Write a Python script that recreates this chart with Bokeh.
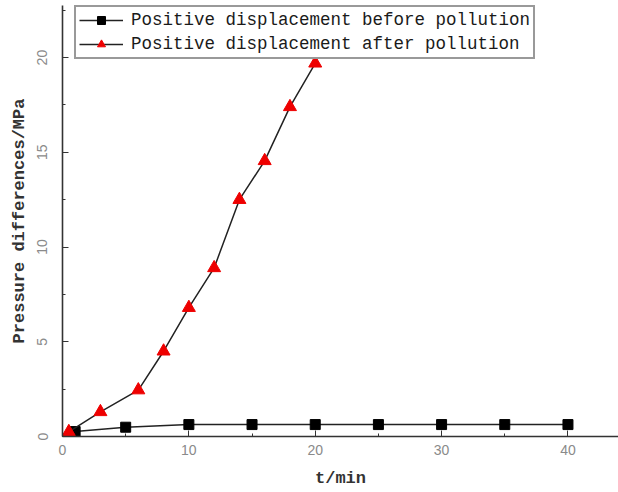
from bokeh.plotting import figure
from bokeh.models import Range1d, SingleIntervalTicker, Legend, LegendItem
from bokeh.embed import file_html
from bokeh.resources import INLINE

# Pressure difference over time, positive displacement before / after pollution
t_before = [1, 5, 10, 15, 20, 25, 30, 35, 40]
p_before = [0.26, 0.49, 0.63, 0.63, 0.63, 0.63, 0.63, 0.63, 0.63]

t_after = [0.5, 3, 6, 8, 10, 12, 14, 16, 18, 20]
p_after = [0.25, 1.3, 2.45, 4.5, 6.8, 8.9, 12.5, 14.55, 17.4, 19.7]

x_ticks = [0, 10, 20, 30, 40]
y_ticks = [0, 5, 10, 15, 20]

p = figure(width=618, height=492, output_backend="svg", toolbar_location=None,
           x_range=Range1d(0, 44.0), y_range=Range1d(0, 22.75),
           min_border_left=62, min_border_bottom=56, min_border_top=5,
           min_border_right=0)
p.outline_line_color = None
p.xgrid.visible = False
p.ygrid.visible = False
p.background_fill_color = "white"
p.border_fill_color = "white"

p.xaxis.ticker = SingleIntervalTicker(interval=10, num_minor_ticks=2)
p.yaxis.ticker = SingleIntervalTicker(interval=5, num_minor_ticks=2)

for ax in (p.xaxis[0], p.yaxis[0]):
    ax.axis_line_color = "#333333"
    ax.axis_line_width = 1.6
    ax.major_tick_line_color = "#333333"
    ax.minor_tick_line_color = "#333333"
    ax.major_tick_in = 6
    ax.major_tick_out = 0
    ax.minor_tick_in = 3
    ax.minor_tick_out = 0
    ax.major_label_text_font = "Liberation Sans"
    ax.major_label_text_font_size = "14px"
    ax.major_label_text_color = "#8a8a8a"
    ax.axis_label_text_font = "Liberation Mono"
    ax.axis_label_text_font_size = "17px"
    ax.axis_label_text_font_style = "bold"
    ax.axis_label_text_color = "#333333"

p.xaxis.axis_label = "t/min"
p.yaxis.axis_label = "Pressure differences/MPa"
p.yaxis.major_label_orientation = "vertical"
p.xaxis.major_label_standoff = 8
p.yaxis.major_label_standoff = 15
p.xaxis.axis_label_standoff = 11
p.yaxis.axis_label_standoff = 6

l1 = p.line(t_before, p_before, line_color="#222222", line_width=1.5)
m1 = p.scatter(t_before, p_before, marker="square", size=10,
               fill_color="black", line_color="black")
l2 = p.line(t_after, p_after, line_color="#222222", line_width=1.5)
m2 = p.scatter(t_after, p_after, marker="triangle", size=13,
               fill_color="#ee0000", line_color="#ee0000")

legend = Legend(items=[
    LegendItem(label="Positive displacement before pollution", renderers=[l1, m1]),
    LegendItem(label="Positive displacement after pollution", renderers=[l2, m2]),
], location=(12, 377))
legend.label_text_font = "Liberation Mono"
legend.label_text_font_size = "17.5px"
legend.label_text_color = "#1a1a1a"
legend.glyph_width = 44
legend.glyph_height = 20
legend.label_height = 20
legend.label_standoff = 8
legend.spacing = 4
legend.padding = 3
legend.margin = 0
legend.border_line_color = "#333333"
legend.border_line_width = 2
legend.background_fill_color = "white"
legend.background_fill_alpha = 1.0
p.add_layout(legend)

open("out.html", "w").write(file_html(p, INLINE))
